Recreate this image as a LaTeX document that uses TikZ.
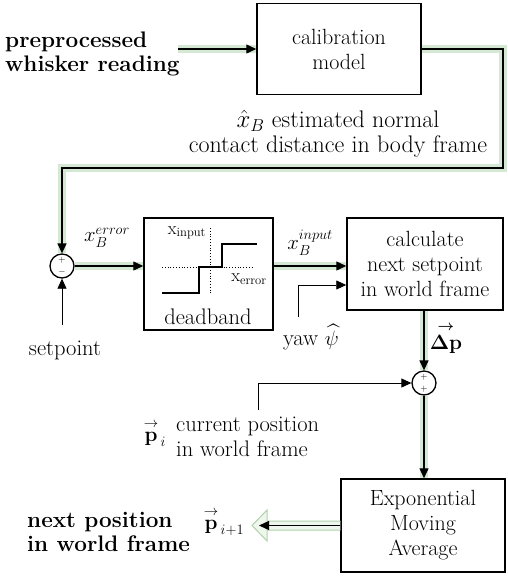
\documentclass[tikz,border=0pt]{standalone}
\usepackage{amsmath,amssymb}
\usepackage{bm}
\usepackage{xcolor}
\usetikzlibrary{arrows.meta,positioning,calc}

\definecolor{bandgreen}{RGB}{213,232,212}
\definecolor{bandedge}{RGB}{176,210,170}

\tikzset{
  blk/.style={draw, line width=1.5pt, align=center, inner sep=0pt, font=\fontsize{22}{25}\selectfont},
  sumnode/.style={draw, circle, line width=1.3pt, minimum size=24pt, inner sep=0pt},
  sig/.style={line width=1.4pt, preaction={draw=bandgreen, line width=8pt, arrows=-}},
  aux/.style={line width=0.8pt},
  lbl/.style={inner sep=1pt, font=\fontsize{22.5}{25}\selectfont},
  biglbl/.style={inner sep=1pt, font=\fontsize{24}{25}\selectfont},
  boldlbl/.style={inner sep=1pt, font=\fontsize{22.5}{24}\selectfont\bfseries},
  smalllbl/.style={inner sep=1pt, font=\fontsize{18}{18}\selectfont},
  signlbl/.style={font=\fontsize{9}{9}\selectfont, inner sep=0pt},
}

\begin{document}
\begin{tikzpicture}[x=1pt, y=-1pt, >={Triangle[length=10pt,width=9pt]}]
\useasboundingbox (0,0) rectangle (507,576);

% Blocks
\node[blk, minimum width=164pt, minimum height=91pt] (calib) at (339,49) {calibration\\model};
\node[blk, minimum width=129pt, minimum height=112pt] (dband) at (208.5,274) {};
\node[blk, minimum width=156pt, minimum height=92pt] (calc) at (425,264) {calculate\\next setpoint\\in world frame};
\node[blk, minimum width=164pt, minimum height=93pt] (ema) at (423,525.5) {Exponential\\Moving\\Average};

% Summing junctions
\node[sumnode] (sum1) at (62,266) {};
\node[signlbl] at (62,260) {$+$};
\node[signlbl] at (62,272) {$-$};
\node[sumnode] (sum2) at (424,383) {};
\node[signlbl] at (424,377) {$+$};
\node[signlbl] at (424,389) {$+$};

% Deadband characteristic
\draw[dotted, line width=0.8pt] (162,267) -- (253,267);
\draw[dotted, line width=0.8pt] (210,228) -- (210,295);
\draw[line width=1.5pt] (162,293) -- (199,293) -- (199,267) -- (222,267) -- (222,244) -- (257,244);
\node[smalllbl] at (187,233) {x$_{\text{input}}$};
\node[smalllbl] at (249,279) {x$_{\text{error}}$};
\node[lbl] at (208,317) {deadband};

% Signal path
\coordinate (inL) at (178,49);
\draw[sig, ->] (inL) -- (calib.west);
\coordinate (fbR) at (503,168);
\draw[sig, ->] (calib.east) -| (fbR) -| (sum1.north);
\draw[sig, ->] (sum1.east) -- (sum1 -| dband.west);
\draw[sig, ->] (sum1 -| dband.east) -- (sum1 -| calc.west);
\draw[sig, ->] (calc.south -| sum2) -- (sum2.north);
\draw[sig, ->] (sum2.south) -- (sum2 |- ema.north);

% Side inputs
\coordinate (spB) at (62,325);
\draw[aux, ->] (spB) -- (sum1.south);
\coordinate (yawB) at (298,317);
\draw[aux, ->] (yawB) |- ([yshift=-21pt]calc.west);
\coordinate (curB) at (258,410);
\draw[aux, ->] (curB) |- (sum2.west);

% Output arrow
\draw[bandedge, fill=bandgreen!40, line width=1pt] (ema.west |- 0,521) -- (267,521) -- (267,510) -- (252,525.5) -- (267,541) -- (267,530) -- (ema.west |- 0,530);
\coordinate (outL) at (259,525.5);
\draw[line width=1.4pt, ->] (ema.west) -- (outL);

% Labels
\node[boldlbl, anchor=west, align=left] (intext) at (4,54) {preprocessed\\whisker reading};
\node[biglbl, align=center] (estlbl) at (338,134) {$\hat{x}_B$ estimated normal\\contact distance in body frame};
\node[lbl] (errlbl) at (107,238) {$x_B^{error}$};
\node[lbl] (inplbl) at (310,243) {$x_B^{input}$};
\node[lbl] (setlbl) at (65,350) {setpoint};
\node[lbl] (yawlbl) at (311,337) {yaw $\widehat{\psi}$};
\node[lbl] (dplbl) at (446,338) {$\overset{\boldsymbol{\rightarrow}}{\bm{\Delta}\mathbf{p}}$};
\node[lbl] (pilbl) at (155,433) {$\overset{\rightarrow}{\mathbf{p}}_{\,i}$};
\node[lbl, anchor=west, align=left] (curlbl) at (175,437) {current position\\in world frame};
\node[boldlbl, anchor=west, align=left] (nextlbl) at (26,532) {next position\\in world frame};
\node[lbl] (pnlbl) at (224,522) {$\overset{\rightarrow}{\mathbf{p}}_{\,i+1}$};

\end{tikzpicture}
\end{document}
